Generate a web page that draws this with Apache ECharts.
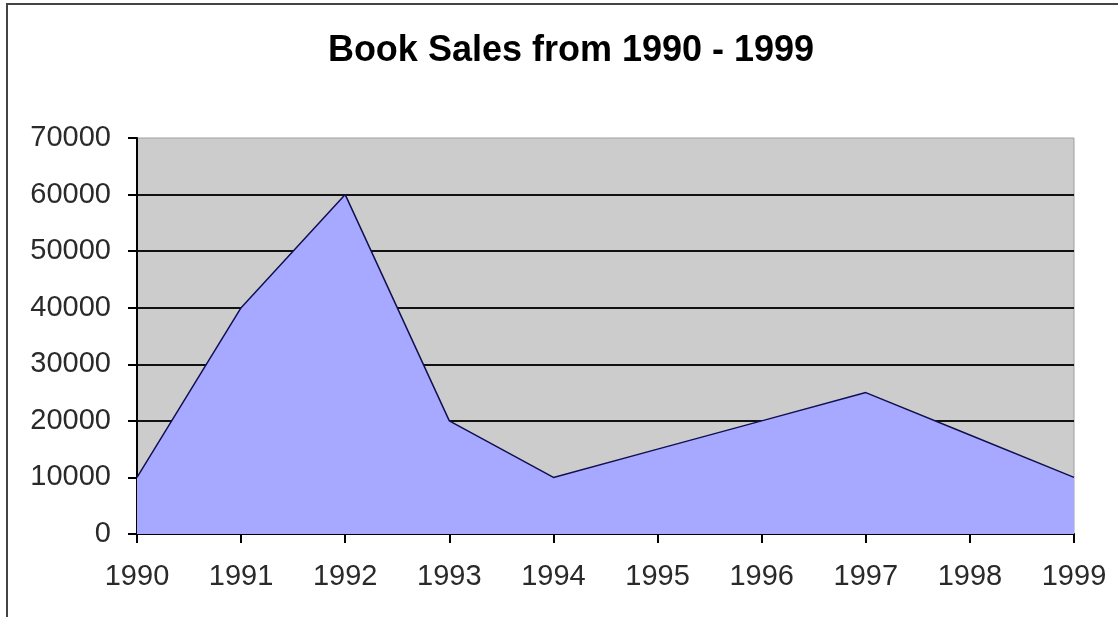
<!DOCTYPE html>
<html>
<head>
<meta charset="utf-8">
<script src="https://cdn.jsdelivr.net/npm/echarts@6/dist/echarts.min.js"></script>
<style>
html,body{margin:0;padding:0;background:#fff;}
#chart{width:1118px;height:617px;}
</style>
</head>
<body>
<div id="chart"></div>
<script>
const titleText = "Book Sales from 1990 - 1999";
const years = ["1990","1991","1992","1993","1994","1995","1996","1997","1998","1999"];
const sales = [10000, 40000, 60000, 20000, 10000, 15000, 20000, 25000, 17500, 10000];
const yMin = 0, yMax = 70000, yStep = 10000;

const chart = echarts.init(document.getElementById('chart'));
chart.setOption({
  backgroundColor: '#ffffff',
  animation: false,
  title: {
    text: titleText,
    left: 566,
    textAlign: 'center',
    top: 28,
    textStyle: {fontFamily: 'Liberation Sans, Arial', fontWeight: 'bold', fontSize: 36, color: '#000'}
  },
  graphic: [{
    type: 'rect',
    shape: {x: 7, y: 4, width: 1300, height: 800},
    style: {fill: 'none', stroke: '#444', lineWidth: 2},
    silent: true
  }],
  grid: {
    left: 137, right: 44, top: 138, bottom: 83,
    show: true, backgroundColor: '#cccccc', borderColor: '#a0a0a0', borderWidth: 1
  },
  xAxis: {
    type: 'category',
    data: years,
    boundaryGap: false,
    axisLine: {lineStyle: {color: '#000', width: 2}},
    axisTick: {show: true, length: 9, lineStyle: {color: '#000', width: 2}},
    axisLabel: {fontFamily: 'Liberation Sans, Arial', fontSize: 29, color: '#2a2a2a', margin: 28, interval: 0},
    splitLine: {show: false}
  },
  yAxis: {
    type: 'value',
    min: yMin, max: yMax, interval: yStep,
    axisLine: {show: true, lineStyle: {color: '#000', width: 2}},
    axisTick: {show: true, length: 9, lineStyle: {color: '#000', width: 2}},
    axisLabel: {fontFamily: 'Liberation Sans, Arial', fontSize: 29, color: '#2a2a2a', margin: 26,
      formatter: function (v) { return String(v); }},
    splitLine: {show: true, showMinLine: false, showMaxLine: false, lineStyle: {color: '#111', width: 2}}
  },
  series: [{
    type: 'line',
    data: sales,
    symbol: 'none',
    lineStyle: {color: '#101050', width: 1.5},
    areaStyle: {color: '#a6a9ff', opacity: 1},
    z: 3
  }]
});
</script>
</body>
</html>
